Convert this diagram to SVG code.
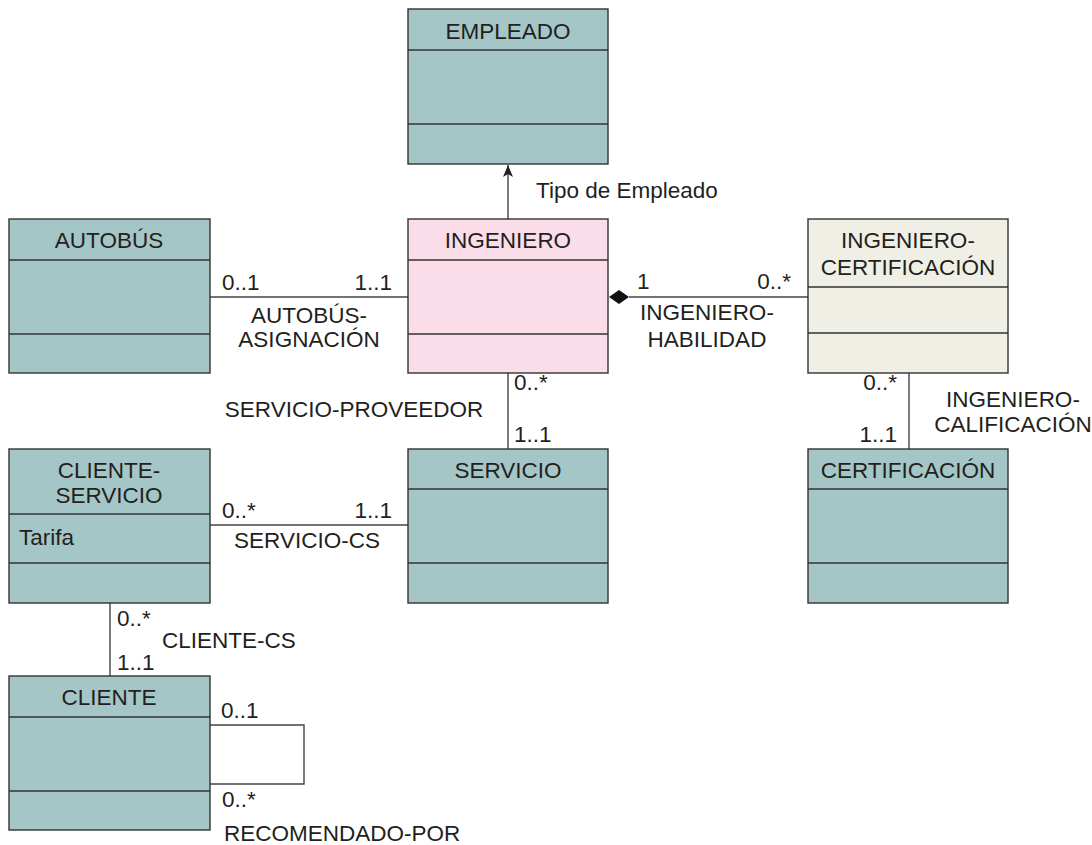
<svg xmlns="http://www.w3.org/2000/svg" width="1092" height="845" viewBox="0 0 1092 845">
<style>
.box{stroke:#333;stroke-width:1.4}
.teal{fill:#a5c6c6}
.pink{fill:#fbdde9}
.cream{fill:#f0efe6}
.div{stroke:#333;stroke-width:1.4;fill:none}
.ln{stroke:#444;stroke-width:1.4;fill:none}
text{font-family:"Liberation Sans",Arial,sans-serif;font-size:22.5px;fill:#231f20}
.c{text-anchor:middle}
.e{text-anchor:end}
</style>
<defs>
<marker id="arr" viewBox="0 0 12 10" refX="12" refY="5" markerWidth="12" markerHeight="10" markerUnits="userSpaceOnUse" orient="auto">
<path d="M0,0 L12,5 L0,10 L3,5 Z" fill="#222"/>
</marker>
</defs>
<rect width="1092" height="845" fill="#fff"/>
<g id="connectors">
<line class="ln" x1="508" y1="219" x2="508" y2="165" marker-end="url(#arr)"/>
<text x="536" y="198">Tipo de Empleado</text>
<line class="ln" x1="210" y1="297" x2="408" y2="297"/>
<text x="222" y="290">0..1</text>
<text class="e" x="392" y="290">1..1</text>
<text class="c" x="309" y="323">AUTOBÚS-</text>
<text class="c" x="309" y="347">ASIGNACIÓN</text>
<line class="ln" x1="629" y1="297" x2="808" y2="297"/>
<path d="M609,297 L619,290 L629,297 L619,304 Z" fill="#111"/>
<text x="637" y="289">1</text>
<text class="e" x="791" y="289">0..*</text>
<text class="c" x="707" y="320">INGENIERO-</text>
<text class="c" x="707" y="347">HABILIDAD</text>
<line class="ln" x1="508" y1="373" x2="508" y2="449"/>
<text x="514" y="390">0..*</text>
<text x="514" y="442">1..1</text>
<text class="c" x="354" y="417">SERVICIO-PROVEEDOR</text>
<line class="ln" x1="909" y1="373" x2="909" y2="449"/>
<text class="e" x="897" y="390">0..*</text>
<text class="e" x="897" y="442">1..1</text>
<text class="c" x="1013" y="407">INGENIERO-</text>
<text class="c" x="1013" y="432">CALIFICACIÓN</text>
<line class="ln" x1="210" y1="525" x2="408" y2="525"/>
<text x="222" y="518">0..*</text>
<text class="e" x="392" y="518">1..1</text>
<text class="c" x="307" y="548">SERVICIO-CS</text>
<line class="ln" x1="110" y1="603" x2="110" y2="676"/>
<text x="117" y="626">0..*</text>
<text x="162" y="648">CLIENTE-CS</text>
<text x="117" y="670">1..1</text>
<polyline class="ln" points="210,725 304,725 304,784 210,784"/>
<text x="221" y="718">0..1</text>
<text x="222" y="807">0..*</text>
<text x="224" y="841">RECOMENDADO-POR</text>
</g>
<g id="empleado">
<rect class="box teal" x="408" y="9" width="200" height="155"/>
<line class="div" x1="408" y1="50" x2="608" y2="50"/>
<line class="div" x1="408" y1="124" x2="608" y2="124"/>
<text class="c" x="508" y="39">EMPLEADO</text>
</g>
<g id="autobus">
<rect class="box teal" x="9" y="219" width="201" height="154"/>
<line class="div" x1="9" y1="260" x2="210" y2="260"/>
<line class="div" x1="9" y1="334" x2="210" y2="334"/>
<text class="c" x="109" y="248">AUTOBÚS</text>
</g>
<g id="ingeniero">
<rect class="box pink" x="408" y="219" width="200" height="154"/>
<line class="div" x1="408" y1="260" x2="608" y2="260"/>
<line class="div" x1="408" y1="334" x2="608" y2="334"/>
<text class="c" x="508" y="248">INGENIERO</text>
</g>
<g id="ingeniero-certificacion">
<rect class="box cream" x="808" y="219" width="200" height="154"/>
<line class="div" x1="808" y1="287" x2="1008" y2="287"/>
<line class="div" x1="808" y1="333" x2="1008" y2="333"/>
<text class="c" x="908" y="248">INGENIERO-</text>
<text class="c" x="908" y="275">CERTIFICACIÓN</text>
</g>
<g id="servicio">
<rect class="box teal" x="408" y="449" width="200" height="154"/>
<line class="div" x1="408" y1="489" x2="608" y2="489"/>
<line class="div" x1="408" y1="563" x2="608" y2="563"/>
<text class="c" x="508" y="478">SERVICIO</text>
</g>
<g id="certificacion">
<rect class="box teal" x="808" y="449" width="200" height="154"/>
<line class="div" x1="808" y1="489" x2="1008" y2="489"/>
<line class="div" x1="808" y1="563" x2="1008" y2="563"/>
<text class="c" x="908" y="478">CERTIFICACIÓN</text>
</g>
<g id="cliente-servicio">
<rect class="box teal" x="9" y="449" width="201" height="154"/>
<line class="div" x1="9" y1="514" x2="210" y2="514"/>
<line class="div" x1="9" y1="563" x2="210" y2="563"/>
<text class="c" x="109" y="478">CLIENTE-</text>
<text class="c" x="109" y="503">SERVICIO</text>
<text x="19" y="545">Tarifa</text>
</g>
<g id="cliente">
<rect class="box teal" x="9" y="676" width="201" height="154"/>
<line class="div" x1="9" y1="717" x2="210" y2="717"/>
<line class="div" x1="9" y1="791" x2="210" y2="791"/>
<text class="c" x="109" y="705">CLIENTE</text>
</g>
</svg>
